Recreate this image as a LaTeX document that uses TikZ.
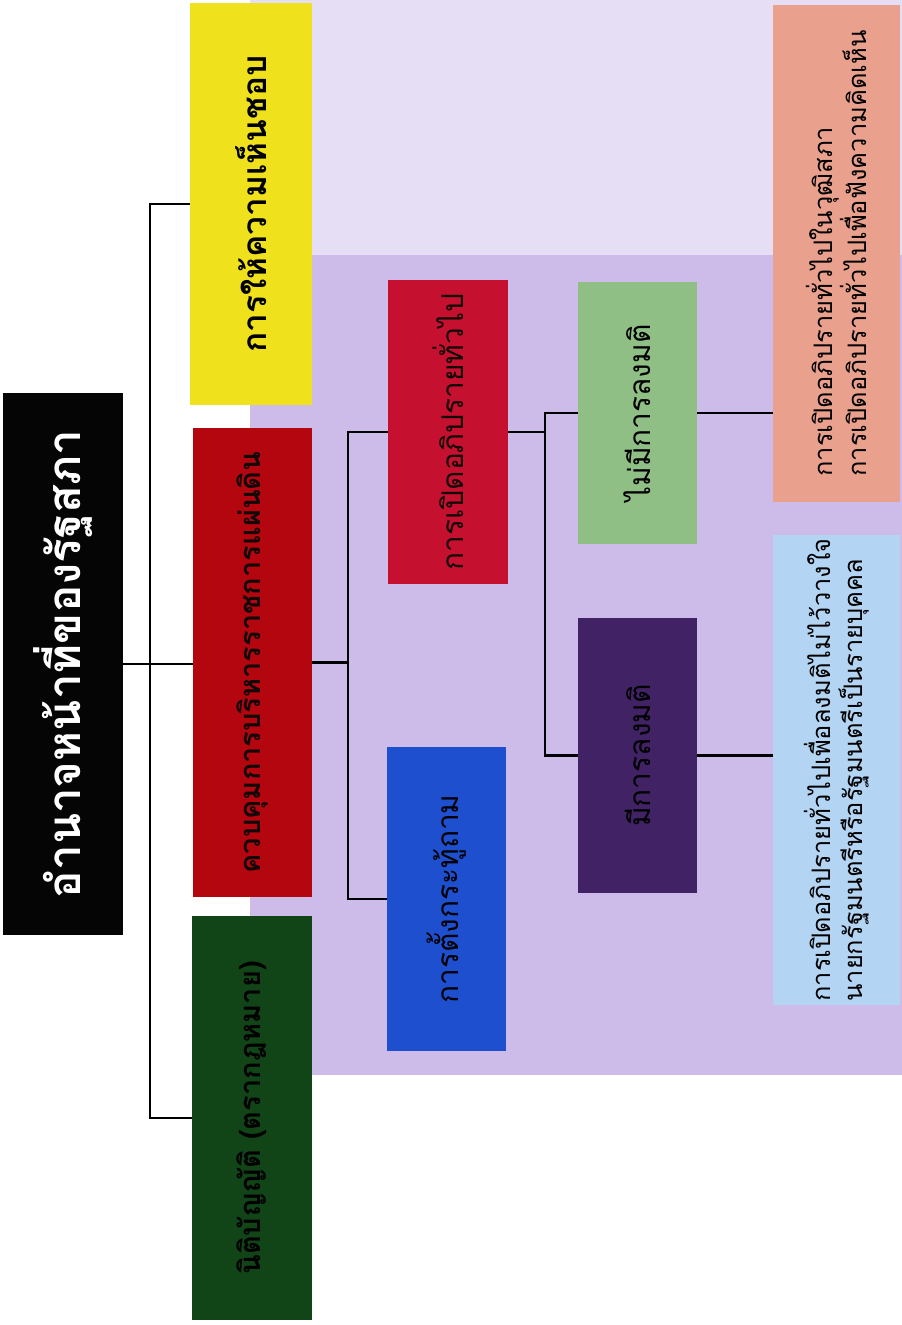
\documentclass[tikz,border=0pt]{standalone}
\usepackage{fontspec}
\setmainfont[Script=Thai]{Loma}
\definecolor{cblack}{HTML}{050505}
\definecolor{cyellow}{HTML}{EFE21C}
\definecolor{cred}{HTML}{B3060E}
\definecolor{cgreen}{HTML}{114416}
\definecolor{cred2}{HTML}{C5102F}
\definecolor{cblue}{HTML}{1D4FCF}
\definecolor{clgreen}{HTML}{8FBF85}
\definecolor{cpurple}{HTML}{402265}
\definecolor{csalmon}{HTML}{E9A08C}
\definecolor{clblue}{HTML}{B3D5F3}
\definecolor{bglight}{HTML}{E6DEF4}
\definecolor{bgdark}{HTML}{CDBBE9}
\definecolor{dtext}{HTML}{120808}
\tikzset{
  box/.style={rotate=90, inner sep=2pt, align=center, font=\fontsize{17}{21}\selectfont, text=dtext},
  lvl1/.style={box, font=\bfseries\fontsize{19}{23}\selectfont},
  wide/.style={box, align=left, font=\fontsize{14.5}{18.5}\selectfont, text=black},
  conn/.style={draw=black, line width=1.2pt}
}
\begin{document}
\begin{tikzpicture}[x=0.02cm, y=-0.02cm]
\useasboundingbox (0,0) rectangle (902,1325);
\fill[white] (0,0) rectangle (902,1325);
% background photo tint
\fill[bglight] (250,0) rectangle (902,1075);
\fill[bgdark] (250,255) rectangle (902,1075);
% nodes
\node[box, fill=cblack, text=white, minimum width=10.84cm, minimum height=2.4cm,
  font=\bfseries\fontsize{26}{30}\selectfont] (root) at (63,664) {อำนาจหน้าที่ของรัฐสภา};
\node[lvl1, fill=cyellow, text=black, minimum width=8.04cm, minimum height=2.44cm] (yes) at (251,204) {การให้ความเห็นชอบ};
\node[lvl1, fill=cred, minimum width=9.38cm, minimum height=2.38cm,
  font=\bfseries\fontsize{16.5}{20}\selectfont] (ctrl) at (252.5,662.5) {ควบคุมการบริหารราชการแผ่นดิน};
\node[lvl1, fill=cgreen, text=black, minimum width=8.08cm, minimum height=2.4cm,
  font=\bfseries\fontsize{16.5}{20}\selectfont] (leg) at (252,1118) {นิติบัญญัติ (ตรากฎหมาย)};
\node[box, fill=cred2, minimum width=6.08cm, minimum height=2.4cm] (deb) at (448,432) {การเปิดอภิปรายทั่วไป};
\node[box, fill=cblue, text=black, minimum width=6.08cm, minimum height=2.38cm] (qst) at (446.5,899) {การตั้งกระทู้ถาม};
\node[box, fill=clgreen, text=black, minimum width=5.24cm, minimum height=2.38cm] (nov) at (637.5,413) {ไม่มีการลงมติ};
\node[box, fill=cpurple, text=black, minimum width=5.5cm, minimum height=2.38cm] (vot) at (637.5,755.5) {มีการลงมติ};
\node[wide, fill=csalmon, minimum width=9.94cm, minimum height=2.54cm] (sal) at (836.5,253.5) {การเปิดอภิปรายทั่วไปในวุฒิสภา\\การเปิดอภิปรายทั่วไปเพื่อฟังความคิดเห็น};
\node[wide, fill=clblue, minimum width=9.28cm, minimum height=2.54cm] (lbl) at (836.5,770) {การเปิดอภิปรายทั่วไปเพื่อลงมติไม่ไว้วางใจ\\นายกรัฐมนตรีหรือรัฐมนตรีเป็นรายบุคคล};
% bracket x positions
\coordinate (b1) at (150,0);
\coordinate (b2) at (348,0);
\coordinate (b3) at (545,0);
% connectors
\draw[conn] (root.south) -- (root.south -| ctrl.north);
\draw[conn] (yes.north) -| (b1 |- leg.north) -- (leg.north);
\draw[conn] (ctrl.south) -- (ctrl.south -| b2);
\draw[conn] (deb.north) -| (b2 |- qst.north) -- (qst.north);
\draw[conn] (deb.south) -- (deb.south -| b3);
\draw[conn] (nov.north) -| (b3 |- vot.north) -- (vot.north);
\draw[conn] (nov.south) -- (nov.south -| sal.north);
\draw[conn] (vot.south) -- (vot.south -| lbl.north);
\end{tikzpicture}
\end{document}
